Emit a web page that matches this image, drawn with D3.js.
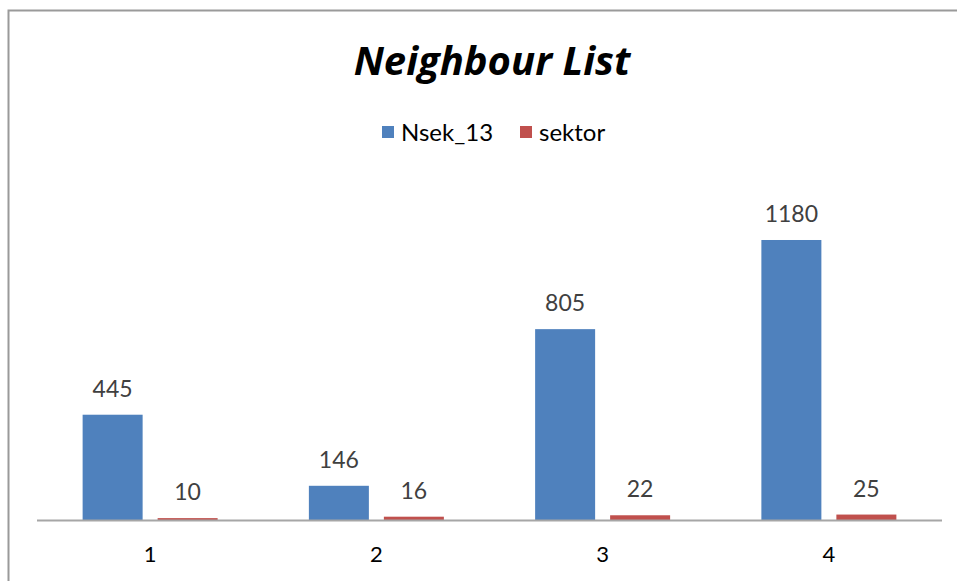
<!DOCTYPE html>
<html>
<head>
<meta charset="utf-8">
<script src="https://cdn.jsdelivr.net/npm/d3@7"></script>
<style>
  html, body { margin: 0; padding: 0; background: #fff; }
  svg { display: block; }
</style>
</head>
<body>
<svg id="chart" width="957" height="581"></svg>
<script>
// Chart data
const categories = ["1", "2", "3", "4"];
const seriesNames = ["Nsek_13", "sektor"];
const nsek13 = [445, 146, 805, 1180];
const sektor = [10, 16, 22, 25];
const seriesColors = ["#4F81BD", "#C0504D"];

const W = 957, H = 581;
const svg = d3.select("#chart");
const font = "Lato, 'Open Sans', sans-serif";

// Outer frame (top and left edges)
svg.append("path")
  .attr("d", `M8.5,${H} V10.5 H${W}`)
  .attr("fill", "none")
  .attr("stroke", "#9a9a9a")
  .attr("stroke-width", 2);

// Title
svg.append("text")
  .attr("x", 492).attr("y", 75)
  .attr("text-anchor", "middle")
  .attr("font-family", "'Open Sans', sans-serif")
  .attr("font-weight", "bold")
  .attr("font-style", "italic")
  .attr("font-size", 40)
  .attr("fill", "#000")
  .text("Neighbour List");

// Plot area
const plot = { left: 37, right: 942, top: 187.7, bottom: 520.5 };

const x0 = d3.scaleBand()
  .domain(categories)
  .range([plot.left, plot.right])
  .paddingInner(0).paddingOuter(0);

const y = d3.scaleLinear()
  .domain([0, 1400])
  .range([plot.bottom, plot.top]);

const barW = 60, barGap = 15;
const rows = categories.map((c, i) => ({ cat: c, values: [nsek13[i], sektor[i]] }));

const groups = svg.append("g").selectAll("g")
  .data(rows).join("g")
  .attr("transform", d => `translate(${x0(d.cat) + x0.bandwidth() / 2},0)`);

const offset = j => (j === 0 ? -(barW + barGap / 2) : barGap / 2);

groups.selectAll("rect")
  .data(d => d.values.map((v, j) => ({ v, j })))
  .join("rect")
  .attr("x", d => offset(d.j))
  .attr("y", d => y(d.v))
  .attr("width", barW)
  .attr("height", d => y(0) - y(d.v))
  .attr("fill", d => seriesColors[d.j]);

groups.selectAll("text.val")
  .data(d => d.values.map((v, j) => ({ v, j })))
  .join("text")
  .attr("class", "val")
  .attr("x", d => offset(d.j) + barW / 2)
  .attr("y", d => y(d.v) - 18)
  .attr("text-anchor", "middle")
  .attr("font-family", font)
  .attr("font-size", 23)
  .attr("fill", "#404040")
  .text(d => d.v);

// Category axis
const xAxis = d3.axisBottom(x0).tickSize(0).tickPadding(0);
const gx = svg.append("g")
  .attr("transform", `translate(0,${plot.bottom})`)
  .call(xAxis);
gx.select(".domain").attr("stroke", "#a6a6a6").attr("stroke-width", 2)
  .attr("d", `M${plot.left},0H${plot.right}`);
gx.selectAll(".tick text")
  .attr("dy", 0).attr("y", 41)
  .attr("font-family", font)
  .attr("font-size", 22)
  .attr("fill", "#000");

// Legend
const legend = svg.append("g").attr("transform", "translate(0,133)");
const legendX = [382, 520];
seriesNames.forEach((name, i) => {
  legend.append("rect")
    .attr("x", legendX[i]).attr("y", -7)
    .attr("width", 12).attr("height", 12)
    .attr("fill", seriesColors[i]);
  legend.append("text")
    .attr("x", legendX[i] + 19).attr("y", 8)
    .attr("font-family", font)
    .attr("font-size", 24)
    .attr("fill", "#000")
    .text(name);
});
</script>
</body>
</html>
